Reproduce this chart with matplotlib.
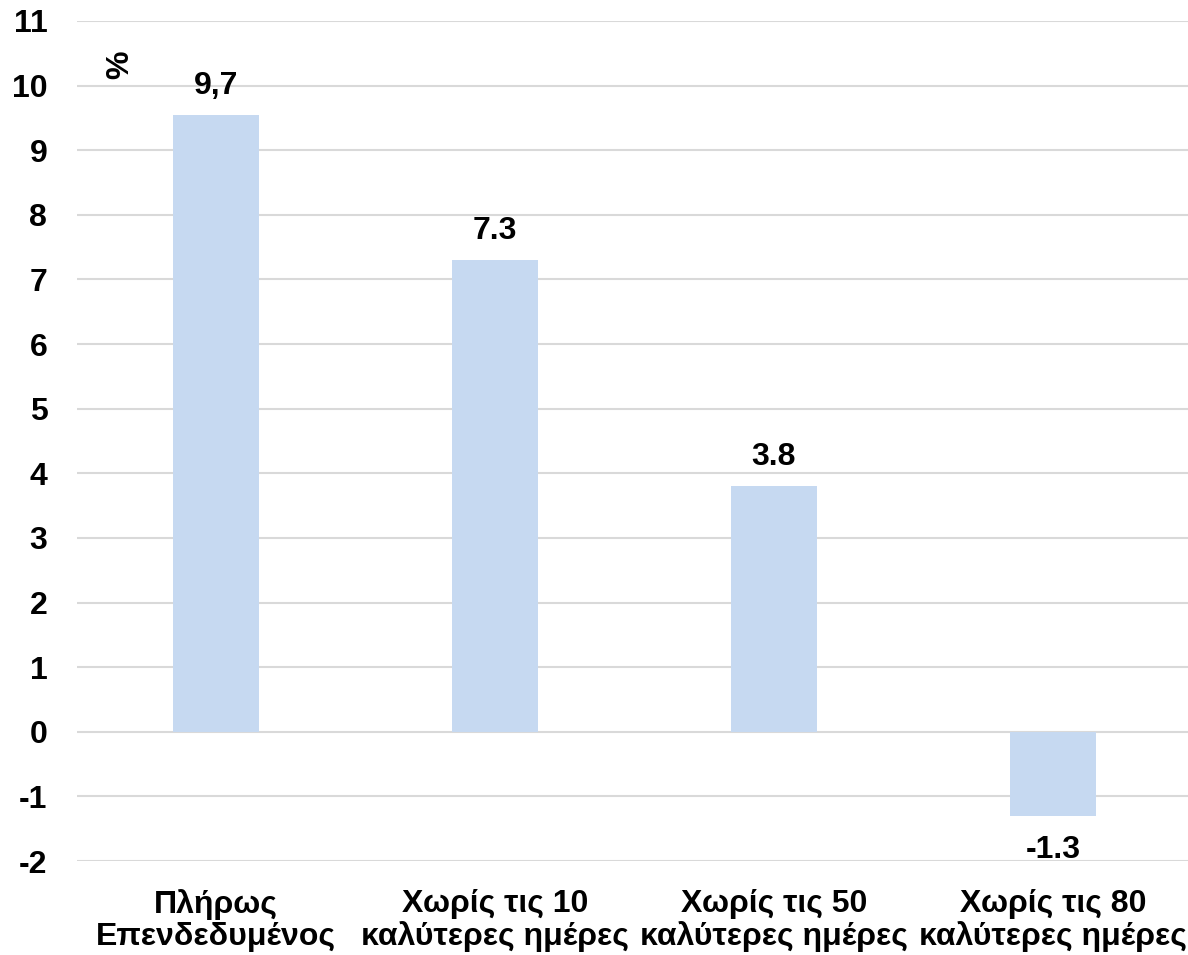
import matplotlib
matplotlib.use("Agg")
import matplotlib.pyplot as plt

plt.rcParams['font.family'] = ['Liberation Sans', 'DejaVu Sans']

categories = ["Πλήρως\nΕπενδεδυμένος", "Χωρίς τις 10\nκαλύτερες ημέρες",
              "Χωρίς τις 50\nκαλύτερες ημέρες", "Χωρίς τις 80\nκαλύτερες ημέρες"]
values = [9.55, 7.3, 3.8, -1.3]
value_labels = ["9,7", "7.3", "3.8", "-1.3"]
yticks = list(range(-2, 12))

FS = 23

fig = plt.figure(figsize=(11.88, 9.55), dpi=100)
ax = fig.add_axes([76.5/1188, 1-861/955, 1116/1188, 840/955])

x = list(range(len(categories)))
ax.bar(x, values, width=0.31, color="#C6D9F1", zorder=2)
ax.set_xlim(-0.5, 3.5)
ax.set_ylim(-2, 11)
ax.set_yticks(yticks)
ax.set_yticklabels([str(t) for t in yticks], fontsize=FS, fontweight='bold')
ax.set_xticks(x)
ax.set_xticklabels(categories, fontsize=FS, fontweight='bold', linespacing=1.1)
ax.tick_params(axis='y', length=0, pad=21)
ax.tick_params(axis='x', length=0, pad=20)
ax.grid(axis='y', color="#D9D9D9", linewidth=1.5, zorder=0)
for s in ax.spines.values():
    s.set_visible(False)

for xi, v, lab in zip(x, values, value_labels):
    if v >= 0:
        ax.annotate(lab, (xi, v), xytext=(0, 10), textcoords='offset points',
                    ha='center', va='bottom', fontsize=FS, fontweight='bold')
    else:
        ax.annotate(lab, (xi, v), xytext=(0, -14), textcoords='offset points',
                    ha='center', va='top', fontsize=FS, fontweight='bold')

fig.text(120/1188, 1-65/955, "%", rotation=90, ha='center', va='center',
         fontsize=FS, fontweight='bold')

fig.savefig("out.png", dpi=100)
